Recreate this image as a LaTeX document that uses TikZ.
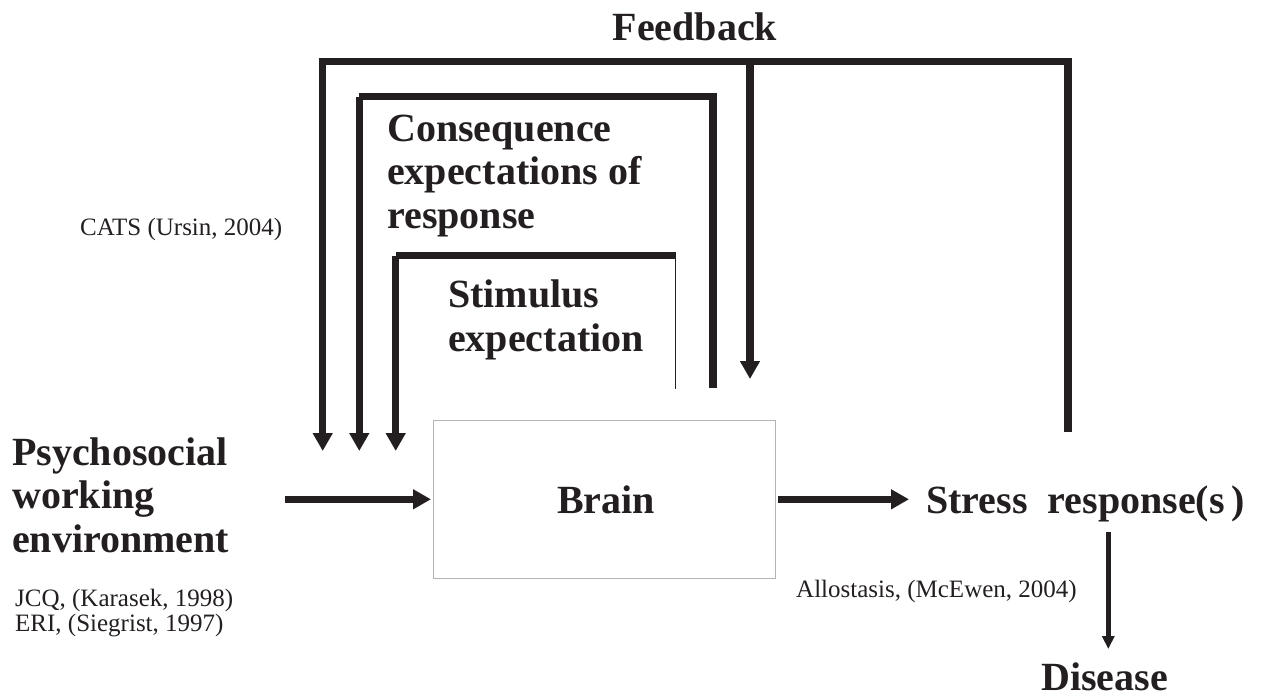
\documentclass[tikz,border=0pt]{standalone}
\usepackage{fontspec}
\setmainfont{Liberation Serif}
\usetikzlibrary{arrows.meta}
\definecolor{dk}{HTML}{231F20}
\definecolor{boxgray}{HTML}{B4B4B4}
\tikzset{
  big/.style={font=\fontsize{40}{43.5}\selectfont\bfseries, inner sep=0pt, text=dk, align=left},
  small/.style={font=\fontsize{25}{25}\selectfont, inner sep=0pt, text=dk, align=left},
  fbline/.style={draw=dk, line width=7.5pt, line join=miter},
  bigtip/.style={-{Triangle[width=19pt,length=18pt]}},
  thintip/.style={-{Triangle[width=12pt,length=13pt]}},
}
\begin{document}
\begin{tikzpicture}[x=1pt,y=-1pt]
\useasboundingbox (0,0) rectangle (1262,699);
% text nodes
\node[big, anchor=base] (feedback) at (695,40) {Feedback};
\node[big, anchor=base west] (conseq) at (387,228) {Consequence\\expectations of\\response};
\node[big, anchor=base west] (stim) at (448,351) {Stimulus\\expectation};
\node[small, anchor=base west] (cats) at (80,235) {CATS (Ursin, 2004)};
\node[big, anchor=base west] (psy) at (12,552) {Psychosocial\\working\\environment};
\node[small, anchor=base west] (jcq) at (15,606) {JCQ, (Karasek, 1998)};
\node[small, anchor=base west] (eri) at (15,631) {ERI, (Siegrist, 1997)};
\node[draw=boxgray, line width=1.3pt, minimum width=342pt, minimum height=158pt, anchor=north west] (brain) at (433,420) {};
\node[big, anchor=base] (braintxt) at (606,513) {Brain};
\node[big, anchor=base west] (stress) at (926,513) {Stress\ \ response(s\,)};
\node[small, anchor=base west] (allo) at (796,597) {Allostasis, (McEwen, 2004)};
\node[big, anchor=base west] (disease) at (1041,690) {Disease};
% coordinates
\coordinate (oR) at (1068,432);
\coordinate (oRt) at (1068,61.5);
\coordinate (oLt) at (322.7,61.5);
\coordinate (oL) at (322.7,451);
\coordinate (bTop) at (750,61.5);
\coordinate (bTip) at (750,379);
\coordinate (mR) at (713,388);
\coordinate (mRt) at (713,96.5);
\coordinate (mLt) at (359.3,96.5);
\coordinate (mL) at (359.3,451);
\coordinate (iRt) at (675.5,255.5);
\coordinate (iR) at (675.5,389);
\coordinate (iLt) at (395.7,255.5);
\coordinate (iL) at (395.7,451);
\coordinate (inS) at (285,499.3);
\coordinate (inE) at (431,499.3);
\coordinate (outS) at (778,499.3);
\coordinate (outE) at (909,499.3);
\coordinate (dS) at (1108.3,532);
\coordinate (dE) at (1108.3,649);
% connectors
\draw[fbline, bigtip] (oR) -- (oRt) -- (oLt) -- (oL);
\draw[fbline, bigtip] (bTop) -- (bTip);
\draw[fbline] (mR) -- (mRt) -- (mLt);
\draw[fbline, bigtip] (mLt) -- (mL);
\draw[fbline] (iRt) -- (iLt);
\draw[fbline, bigtip] (iLt) -- (iL);
\draw[draw=dk, line width=1.6pt] ([yshift=-3pt]iRt) -- (iR);
\draw[fbline, line width=7pt, bigtip] (inS) -- (inE);
\draw[fbline, line width=7pt, bigtip] (outS) -- (outE);
\draw[draw=dk, line width=4.5pt, thintip] (dS) -- (dE);
\end{tikzpicture}
\end{document}
